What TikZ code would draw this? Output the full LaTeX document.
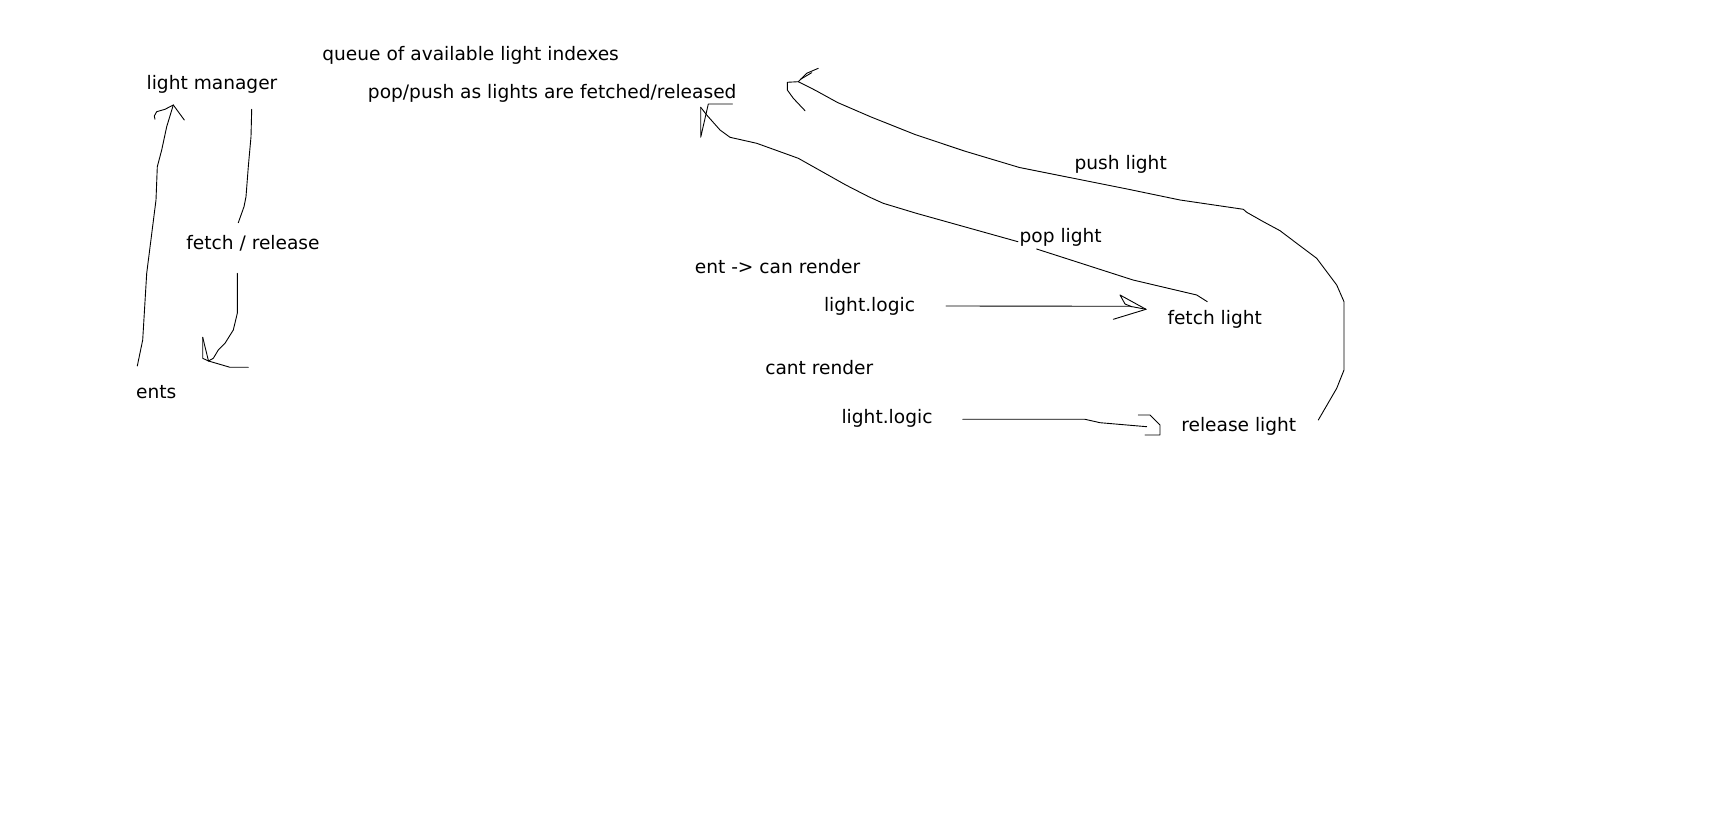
\documentclass[tikz,border=0pt]{standalone}
\usepackage{fontspec}
\newfontfamily\sketchfont{DejaVu Sans}
\tikzset{
  sketchline/.style={line width=0.45pt, line join=round, line cap=round},
  sketchlabel/.style={font=\sketchfont\fontsize{9.3}{11}\selectfont, inner sep=0pt, text height=7pt, text depth=2.2pt}
}

\begin{document}
\begin{tikzpicture}[x=0.5pt, y=-0.5pt]
      \useasboundingbox (0,0) rectangle (1728,838);
      \node[sketchlabel] (mgr) at (212,84.5) {light manager};
      \node[sketchlabel] (queue) at (470.6,55.5) {queue of available light indexes};
      \node[sketchlabel] (poppush) at (552.2,93.4) {pop/push as lights are fetched/released};
      \node[sketchlabel] (fetchrel) at (253,245) {fetch / release};
      \node[sketchlabel] (ents) at (156.3,394) {ents};
      \node[sketchlabel] (pushlbl) at (1120.7,165) {push light};
      \node[sketchlabel] (poplbl) at (1060.7,237.5) {pop light};
      \node[sketchlabel] (canrender) at (777.5,268.5) {ent -> can render};
      \node[sketchlabel] (logicA) at (869.5,307) {light.logic};
      \node[sketchlabel] (fetch) at (1214.7,319.8) {fetch light};
      \node[sketchlabel] (cantrender) at (819.3,370) {cant render};
      \node[sketchlabel] (logicB) at (887,418.3) {light.logic};
      \node[sketchlabel] (release) at (1238.8,427) {release light};
      % ents <-> light manager
      \coordinate (upfoot) at (137.3,366);
      \coordinate (uptip) at (173.3,105);
      \draw[sketchline] (upfoot) -- (142.7,340) -- (146.7,273.3) -- (156,200) -- (157.3,166.7) -- (161.7,150) -- (166.7,126.7) -- (uptip);
      \draw[sketchline] (uptip) -- (165,109.3) -- (156.7,111.7) -- (154.3,116) -- (155,119.3);
      \draw[sketchline] (uptip) -- (184.3,120);
      \coordinate (downtop) at (251.7,109.3);
      \coordinate (downtip) at (208.5,361);
      \draw[sketchline] (downtop) -- (251,136.7) -- (248.3,166.7) -- (246,196.7) -- (244,206.7) -- (238.3,222.7);
      \draw[sketchline] (237.3,273.3) -- (237.3,313.3) -- (233.3,330) -- (225,343.3) -- (218.3,350) -- (213.3,358.3) -- (downtip);
      \draw[sketchline] (202.7,337.3) -- (202.7,358.3) -- (downtip) -- (230,367.3) -- (248.3,367.3);
      \draw[sketchline] (202.7,337.3) -- (downtip);
      % pop light
      \coordinate (popstart) at (1207.3,301.7);
      \coordinate (poptip) at (700.7,107.3);
      \draw[sketchline] (popstart) -- (1196.7,295) -- (1133,280) -- (1036.6,249);
      \draw[sketchline] (1017.9,241.7) -- (916.3,213.3) -- (883.2,203.3) -- (868.6,196.7) -- (845.8,185) -- (798.3,158.3) -- (756.7,143.3) -- (730,137.3) -- (720,130) -- (706.7,115) -- (poptip);
      \draw[sketchline] (poptip) -- (700.7,137.3) -- (708.3,104) -- (732.3,104);
      % push light
      \coordinate (pushstart) at (1318.3,420);
      \coordinate (pushtip) at (798.3,81.7);
      \draw[sketchline] (pushstart) -- (1336.7,388.3) -- (1344,370) -- (1344,301.7) -- (1336.7,285) -- (1316.7,258.3) -- (1303.3,248.3) -- (1280,230.7) -- (1263.3,221.7) -- (1246.7,212.3) -- (1243.3,209.3) -- (1180,200) -- (1129.5,189.5) -- (1074.5,178.5) -- (1019.4,167.5) -- (964.3,151) -- (914.7,134.4) -- (870.6,116.8) -- (837.5,102.5) -- (815.5,90.4) -- (pushtip);
      \draw[sketchline] (pushtip) -- (787.3,82.3) -- (787.3,90) -- (793.3,98.3) -- (805,110.7);
      \draw[sketchline] (pushtip) -- (806.7,73.3) -- (818.3,68.3);
      \draw[sketchline] (800.5,79.3) -- (811.7,72.7);
      % logic -> fetch / release
      \coordinate (fetchtail) at (946,306);
      \coordinate (fetchtip) at (1146,309.3);
      \draw[sketchline] (fetchtail) -- (1130,306.3) -- (fetchtip);
      \draw[sketchline] (fetchtip) -- (1120,295) -- (1125,304) -- (1131.7,306.7);
      \draw[sketchline] (fetchtip) -- (1113.3,319.3);
      \coordinate (reltail) at (962.7,419.3);
      \coordinate (reltip) at (1146.7,426.7);
      \draw[sketchline] (reltail) -- (1085,419.3) -- (1100,422.7) -- (reltip);
      \draw[sketchline] (1138.3,415) -- (1150,415) -- (1160,425) -- (1160,435) -- (1145,435);
    \end{tikzpicture}
\end{document}
